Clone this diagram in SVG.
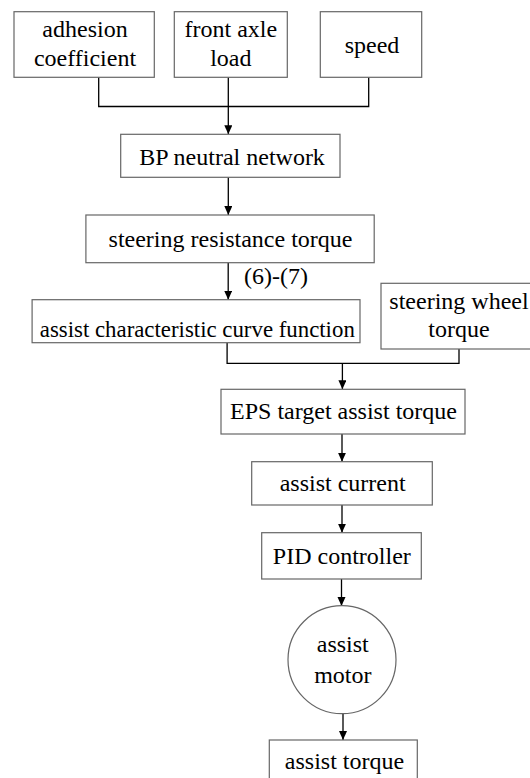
<svg xmlns="http://www.w3.org/2000/svg" width="530" height="778" viewBox="0 0 530 778">
<defs>
<style>
.box{fill:#fff;stroke:#666;stroke-width:1.2}
.t{font-family:Liberation Serif, Tinos, Times New Roman, Times, Noto Serif, DejaVu Serif, serif;font-size:24px;fill:#000;text-anchor:middle}
.c{fill:none;stroke:#000;stroke-width:1.3}
</style>
<marker id="ah" markerUnits="userSpaceOnUse" markerWidth="10" markerHeight="9" refX="9" refY="4" orient="auto">
<path d="M0,0 L9,4 L0,8 z" fill="#000"/>
</marker>
</defs>
<rect width="530" height="778" fill="#fff"/>
<g id="connectors">
<polyline class="c" points="98.7,77.3 98.7,106.5 368.7,106.5 368.7,77.3"/>
<line class="c" x1="228.3" y1="77.3" x2="228.3" y2="134.3" marker-end="url(#ah)"/>
<line class="c" x1="228.3" y1="177.3" x2="228.3" y2="215" marker-end="url(#ah)"/>
<line class="c" x1="228.2" y1="262.7" x2="228.2" y2="299.7" marker-end="url(#ah)"/>
<polyline class="c" points="227.1,342.7 227.1,363.3 459,363.3 459,349"/>
<line class="c" x1="342.4" y1="363.3" x2="342.4" y2="389.3" marker-end="url(#ah)"/>
<line class="c" x1="342" y1="434" x2="342" y2="461.7" marker-end="url(#ah)"/>
<line class="c" x1="342" y1="505" x2="342" y2="532.7" marker-end="url(#ah)"/>
<line class="c" x1="341.5" y1="579" x2="341.5" y2="606" marker-end="url(#ah)"/>
<line class="c" x1="343" y1="713.5" x2="343" y2="740" marker-end="url(#ah)"/>
<text class="t" x="244" y="284" style="text-anchor:start">(6)-(7)</text>
</g>
<g id="adhesion">
<rect class="box" x="14" y="11.7" width="140.3" height="65.6"/>
<text class="t" x="85" y="37.3">adhesion</text>
<text class="t" x="85" y="65.7">coefficient</text>
</g>
<g id="frontaxle">
<rect class="box" x="174.3" y="11.7" width="113" height="65.6"/>
<text class="t" x="230.8" y="37.3">front axle</text>
<text class="t" x="230.8" y="65.7">load</text>
</g>
<g id="speed">
<rect class="box" x="320.3" y="11.7" width="101.4" height="65.6"/>
<text class="t" x="372" y="53.3">speed</text>
</g>
<g id="bp">
<rect class="box" x="120.7" y="134.3" width="219.3" height="43"/>
<text class="t" x="232" y="165.2">BP neutral network</text>
</g>
<g id="resistance">
<rect class="box" x="85.9" y="215" width="288.3" height="47.7"/>
<text class="t" x="230.5" y="246.7">steering resistance torque</text>
</g>
<g id="assistcurve">
<rect class="box" x="32.1" y="299.7" width="327.9" height="43"/>
<text class="t" x="197.3" y="336.5" textLength="315" lengthAdjust="spacingAndGlyphs">assist characteristic curve function</text>
</g>
<g id="wheel">
<rect class="box" x="381" y="283.3" width="160" height="65.7"/>
<text class="t" x="459" y="309.3">steering wheel</text>
<text class="t" x="459" y="336.7">torque</text>
</g>
<g id="eps">
<rect class="box" x="221" y="389.3" width="244" height="44.7"/>
<text class="t" x="343.5" y="419.3">EPS target assist torque</text>
</g>
<g id="current">
<rect class="box" x="251.7" y="461.7" width="180.6" height="43.3"/>
<text class="t" x="342.7" y="491">assist current</text>
</g>
<g id="pid">
<rect class="box" x="261.7" y="532.7" width="159.6" height="46.3"/>
<text class="t" x="341.8" y="563.7">PID controller</text>
</g>
<g id="motor">
<circle class="box" cx="342" cy="659.7" r="54"/>
<text class="t" x="342.8" y="652.3">assist</text>
<text class="t" x="342.8" y="682.7">motor</text>
</g>
<g id="assisttorque">
<rect class="box" x="269.3" y="740" width="148" height="50"/>
<text class="t" x="344.5" y="769.3">assist torque</text>
</g>
</svg>
